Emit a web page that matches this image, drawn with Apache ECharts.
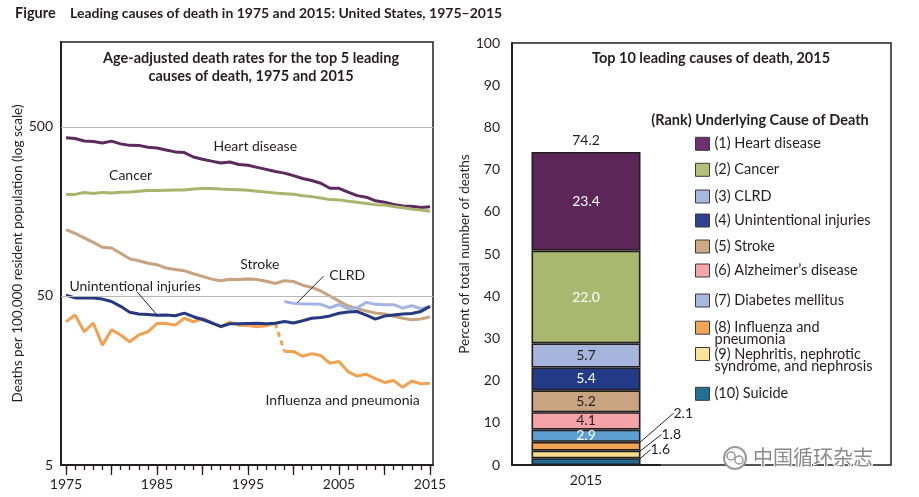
<!DOCTYPE html>
<html><head><meta charset="utf-8">
<script src="https://cdn.jsdelivr.net/npm/echarts@6/dist/echarts.min.js"></script>
<style>html,body{margin:0;padding:0;background:#fff}#c{width:919px;height:497px}</style>
</head><body><div id="c"></div>
<script>
// ---------- Left chart data (age-adjusted death rates, log scale) ----------
const years = [1975,1976,1977,1978,1979,1980,1981,1982,1983,1984,1985,1986,1987,1988,1989,1990,1991,1992,1993,1994,1995,1996,1997,1998,1999,2000,2001,2002,2003,2004,2005,2006,2007,2008,2009,2010,2011,2012,2013,2014,2015];
const heart = [431.2,426.9,412.7,409.9,401.6,412.1,397.0,389.0,388.9,378.8,375.0,365.1,355.9,352.5,332.0,321.8,313.8,306.1,309.9,299.7,296.3,288.3,280.4,272.4,266.5,257.6,247.8,240.8,232.3,217.0,216.8,205.5,196.1,192.1,182.8,179.1,173.7,170.5,169.8,167.0,168.5];
const cancer = [199.5,199.5,204.5,202.0,205.0,203.0,205.5,206.0,208.5,210.0,210.5,211.0,211.5,212.0,214.5,216.5,216.0,214.5,213.5,212.5,211.0,208.5,205.7,203.0,201.5,199.6,196.0,193.5,190.1,185.8,185.1,181.8,179.3,176.4,173.5,172.8,169.0,166.5,163.2,161.2,158.5];
const stroke = [123.5,117.4,110.4,103.7,97.1,96.2,89.5,82.9,80.7,78.1,76.6,73.1,71.6,70.6,67.7,65.3,62.9,61.5,62.7,62.6,63.1,62.5,61.1,59.3,61.6,60.9,57.9,56.2,53.5,50.0,46.6,43.6,42.2,40.7,39.6,39.1,37.9,36.9,36.2,36.5,37.6];
const injuries = [50.6,48.7,48.8,48.6,47.9,46.4,43.4,40.1,39.1,38.8,38.5,38.6,38.2,39.6,37.7,36.3,34.7,33.0,34.2,34.2,34.4,34.5,34.2,34.5,35.3,34.6,35.7,36.9,37.3,38.1,39.5,40.2,40.4,38.5,36.5,38.0,38.6,39.1,39.4,40.5,43.4];
const fluYearsA = years.slice(0, 24);      // 1975-1998
const fluA = [35.2,38.6,30.7,34.6,25.6,31.5,29.4,26.8,29.4,30.7,34.4,34.4,33.6,36.9,35.2,36.8,34.7,32.8,35.0,33.6,33.4,32.9,33.3,34.4];
const fluYearsB = years.slice(24);         // 1999-2015
const fluB = [23.5,23.5,22.0,22.8,22.2,20.0,20.5,17.8,16.8,17.2,16.2,15.4,15.8,14.4,15.7,15.1,15.2];
const clrdYears = years.slice(24);
const clrd = [46.4,45.2,44.8,44.8,44.6,42.6,44.5,42.0,42.6,45.8,44.6,44.4,44.4,42.4,43.8,42.0,43.2];
const logTicks = [5, 50, 500];
const xLabelYears = [1975, 1985, 1995, 2005, 2015];
const xMajorTicks = [1975,1980,1985,1990,1995,2000,2005,2010,2015];

// ---------- Right chart data (percent of total deaths, 2015) ----------
const causes = ['(1) Heart disease','(2) Cancer','(3) CLRD','(4) Unintentional injuries','(5) Stroke',"(6) Alzheimer\u2019s disease",'(7) Diabetes mellitus','(8) Influenza and\npneumonia','(9) Nephritis, nephrotic\nsyndrome, and nephrosis','(10) Suicide'];
const percents = [23.4, 22.0, 5.7, 5.4, 5.2, 4.1, 2.9, 2.1, 1.8, 1.6];
const barCategory = ['2015'];

const FONT = 'Lato, "Open Sans", sans-serif';
const INK = '#231f20';
const C = {heart:'#5c2a5e', cancer:'#aab46c', stroke:'#c8a37f', injuries:'#263880', flu:'#f0a252', clrd:'#a3b5e2'};
const barColors = ['#5c2659','#a9b86e','#a6b5dc','#233a86','#c9a480','#f4a3a9','#5e9fd2','#f2a352','#f7dd8d','#1f6a90'];
const legendColors = ['#6e3070','#b4c07a','#a9b8e0','#2e4390','#cfa984','#f4a6ab','#a9b8e0','#f2a655','#fae49b','#226f96'];
const labelColors = ['#fff','#fff',INK,'#fff',INK,INK,'#fff',INK,INK,INK];

const pairs = (xs, vs) => vs.map((v, i) => [xs[i], v]);
const lineBase = (name, color, data) => ({
  type:'line', name, data, xAxisIndex:0, yAxisIndex:0, symbol:'none', smooth:false,
  lineStyle:{color, width:3}, itemStyle:{color}, z:3, silent:true, animation:false
});
const annot = (text, coord) => ({
  coord, value:text, symbol:'circle', symbolSize:0,
  label:{show:true, formatter:text, position:'inside', color:INK, fontSize:14, fontFamily:FONT}
});

const series = [];
const sHeart = lineBase('Heart disease', C.heart, pairs(years, heart));
sHeart.markLine = {silent:true, symbol:'none', label:{show:false}, animation:false,
  lineStyle:{color:'#b8b8b8', width:1, type:'solid'}, data: logTicks.slice(1).map(v => ({yAxis:v}))};
sHeart.markPoint = {silent:true, animation:false, data:[annot('Heart disease', [1995.8, 385])]};
series.push(sHeart);
const sCancer = lineBase('Cancer', C.cancer, pairs(years, cancer));
sCancer.markPoint = {silent:true, animation:false, data:[annot('Cancer', [1982.1, 258])]};
series.push(sCancer);
const sStroke = lineBase('Stroke', C.stroke, pairs(years, stroke));
sStroke.markPoint = {silent:true, animation:false, data:[annot('Stroke', [1996.3, 77])]};
series.push(sStroke);
const sFluA = lineBase('Influenza and pneumonia', C.flu, pairs(fluYearsA, fluA));
sFluA.markPoint = {silent:true, animation:false, data:[annot('Influenza and pneumonia', [2005.4, 12.0])]};
series.push(sFluA);
const sFluLink = lineBase('Influenza link', C.flu, [[fluYearsA[fluYearsA.length-1], fluA[fluA.length-1]], [fluYearsB[0], fluB[0]]]);
sFluLink.lineStyle = {color:C.flu, width:3, type:[5,4]};
series.push(sFluLink);
series.push(lineBase('Influenza and pneumonia (ICD-10)', C.flu, pairs(fluYearsB, fluB)));
const sClrd = lineBase('CLRD', C.clrd, pairs(clrdYears, clrd));
sClrd.markPoint = {silent:true, animation:false, data:[annot('CLRD', [2005.9, 66.5])]};
sClrd.markLine = {silent:true, symbol:'none', label:{show:false}, animation:false,
  lineStyle:{color:INK, width:1, type:'solid'}, data:[[{coord:[2003.3, 65.5]},{coord:[2000.4, 45.6]}]]};
series.push(sClrd);
const sInj = lineBase('Unintentional injuries', C.injuries, pairs(years, injuries));
sInj.z = 4;
sInj.markPoint = {silent:true, animation:false, data:[annot('Unintentional injuries', [1982.6, 56.8])]};
sInj.markLine = {silent:true, symbol:'none', label:{show:false}, animation:false,
  lineStyle:{color:INK, width:1, type:'solid'}, data:[[{coord:[1982.8, 53.0]},{coord:[1985.0, 38.6]}]]};
series.push(sInj);

// ---------- Right stacked bar ----------
const smallLabelShift = {7:{dx:29, dy:-33}, 8:{dx:17, dy:-20}, 9:{dx:6, dy:-12}};
for (let k = percents.length - 1; k >= 0; k--) {
  const small = smallLabelShift[k];
  const s = {
    type:'bar', name:causes[k], stack:'total', xAxisIndex:2, yAxisIndex:1,
    data:[percents[k]], barWidth:109, silent:true, animation:false,
    itemStyle:{color:barColors[k], borderColor:INK, borderWidth:1.6},
    label: small
      ? {show:true, position:'right', distance:4, formatter:p => p.value.toFixed(1), color:INK, fontSize:14, fontFamily:FONT}
      : {show:true, position:'inside', formatter:p => p.value.toFixed(1), color:labelColors[k], fontSize:14, fontFamily:FONT}
  };
  if (small) {
    s.labelLayout = {dx: small.dx, dy: small.dy};
    s.labelLine = {show:true, lineStyle:{color:INK, width:1}};
  }
  series.push(s);
}
const total = percents.reduce((a, b) => a + b, 0);
series.push({
  type:'bar', name:'Total', stack:'total', xAxisIndex:2, yAxisIndex:1, data:[0], barWidth:109,
  silent:true, animation:false, itemStyle:{color:'rgba(0,0,0,0)', borderWidth:0},
  label:{show:true, position:'top', distance:4, formatter: total.toFixed(1), color:INK, fontSize:14, fontFamily:FONT}
});

// ---------- Legends (one per item to match spacing) ----------
const legendCenters = [143.3,169.3,196,220,246,270,300,326.7,353,393.3];
const legends = causes.map((name, k) => {
  const multi = name.indexOf('\n') >= 0;
  return {
    orient:'vertical', left:695, top: multi ? legendCenters[k] - 18.5 : legendCenters[k] - 7,
    padding:0, itemWidth:14, itemHeight:13, itemGap:0, selectedMode:false,
    data:[{name, itemStyle:{color:legendColors[k], borderColor:'#3a3a3a', borderWidth:1}}],
    icon:'rect',
    formatter: multi ? (n => '\n' + n) : (n => n),
    textStyle: multi
      ? {color:INK, fontSize:14.5, fontFamily:FONT, lineHeight:12}
      : {color:INK, fontSize:14.5, fontFamily:FONT, lineHeight:14}
  };
});

const option = {
  backgroundColor:'#fff',
  animation:false,
  textStyle:{fontFamily:FONT},
  title:[
    {text:'Figure', left:15, top:6, padding:0, textStyle:{fontSize:14.5, fontWeight:'bold', color:INK, fontFamily:FONT}},
    {text:'Leading causes of death in 1975 and 2015: United States, 1975\u20132015', left:70, top:6, padding:0, textStyle:{fontSize:14, fontWeight:'bold', color:INK, fontFamily:FONT}},
    {text:'Age-adjusted death rates for the top 5 leading\ncauses of death, 1975 and 2015', left:251, textAlign:'center', top:49, padding:0, textStyle:{fontSize:14.5, fontWeight:'bold', color:INK, fontFamily:FONT, lineHeight:18, align:'center'}},
    {text:'Top 10 leading causes of death, 2015', left:711, textAlign:'center', top:51, padding:0, textStyle:{fontSize:14.5, fontWeight:'bold', color:INK, fontFamily:FONT}},
    {text:'(Rank) Underlying Cause of Death', left:760, textAlign:'center', top:113, padding:0, textStyle:{fontSize:14.5, fontWeight:'bold', color:INK, fontFamily:FONT}}
  ],
  legend: legends,
  grid:[
    {left:61, top:42, width:372, height:423, show:true, borderColor:INK, borderWidth:1.5, containLabel:false},
    {left:512, top:43, width:148, height:422, containLabel:false}
  ],
  xAxis:[
    {type:'value', gridIndex:0, min:1974.45, max:2015.33,
     axisLine:{show:true, onZero:false, lineStyle:{color:INK, width:2}},
     axisTick:{show:true, length:5, lineStyle:{color:INK, width:1.3}, customValues: years},
     axisLabel:{show:true, customValues: xLabelYears, margin:12, fontSize:14, color:INK, fontFamily:FONT, formatter: v => String(v)},
     splitLine:{show:false}},
    {type:'value', gridIndex:0, min:1974.45, max:2015.33, position:'bottom',
     axisLine:{show:false},
     axisTick:{show:true, length:10, lineStyle:{color:INK, width:1.3}, customValues: xMajorTicks},
     axisLabel:{show:false}, splitLine:{show:false}},
    {type:'category', gridIndex:1, data:barCategory,
     axisLine:{show:true, lineStyle:{color:INK, width:2}},
     axisTick:{show:false}, axisLabel:{fontSize:14, color:INK, margin:8, fontFamily:FONT}}
  ],
  yAxis:[
    {type:'log', gridIndex:0, logBase:10, min:5, max:1590,
     name:'Deaths per 100,000 resident population (log scale)', nameLocation:'middle', nameGap:32,
     nameTextStyle:{fontSize:13.5, color:INK, fontFamily:FONT},
     axisLine:{show:true, lineStyle:{color:INK, width:2}},
     axisTick:{show:false},
     axisLabel:{customValues: logTicks, fontSize:14, color:INK, margin:8, fontFamily:FONT, formatter: v => String(Math.round(v))},
     splitLine:{show:false}, minorSplitLine:{show:false}},
    {type:'value', gridIndex:1, min:0, max:100, interval:10,
     name:'Percent of total number of deaths', nameLocation:'middle', nameGap:38,
     nameTextStyle:{fontSize:13.5, color:INK, fontFamily:FONT},
     axisLine:{show:true, lineStyle:{color:INK, width:2}},
     axisTick:{show:false},
     axisLabel:{fontSize:14, color:INK, margin:12, fontFamily:FONT},
     splitLine:{show:false}}
  ],
  graphic:[
    {type:'rect', silent:true, z:0, shape:{x:512, y:43, width:379, height:422}, style:{fill:'none', stroke:INK, lineWidth:1.5}},
    {type:'circle', silent:true, z:100, shape:{cx:735, cy:458, r:11}, style:{fill:'#fff', stroke:'#9a9a9a', lineWidth:2}},
    {type:'circle', silent:true, z:101, shape:{cx:731, cy:456, r:4}, style:{fill:'none', stroke:'#9a9a9a', lineWidth:1.5}},
    {type:'circle', silent:true, z:101, shape:{cx:739, cy:460, r:4}, style:{fill:'none', stroke:'#9a9a9a', lineWidth:1.5}},
    {type:'text', silent:true, z:100, left:752, top:446, style:{text:'\u4e2d\u56fd\u5faa\u73af\u6742\u5fd7', font:'20px "Noto Sans CJK SC"', fill:'#8a8a8a', stroke:'#fff', lineWidth:2}}
  ],
  series
};
const chart = echarts.init(document.getElementById('c'), null, {renderer:'canvas'});
chart.setOption(option);
</script>
</body></html>
